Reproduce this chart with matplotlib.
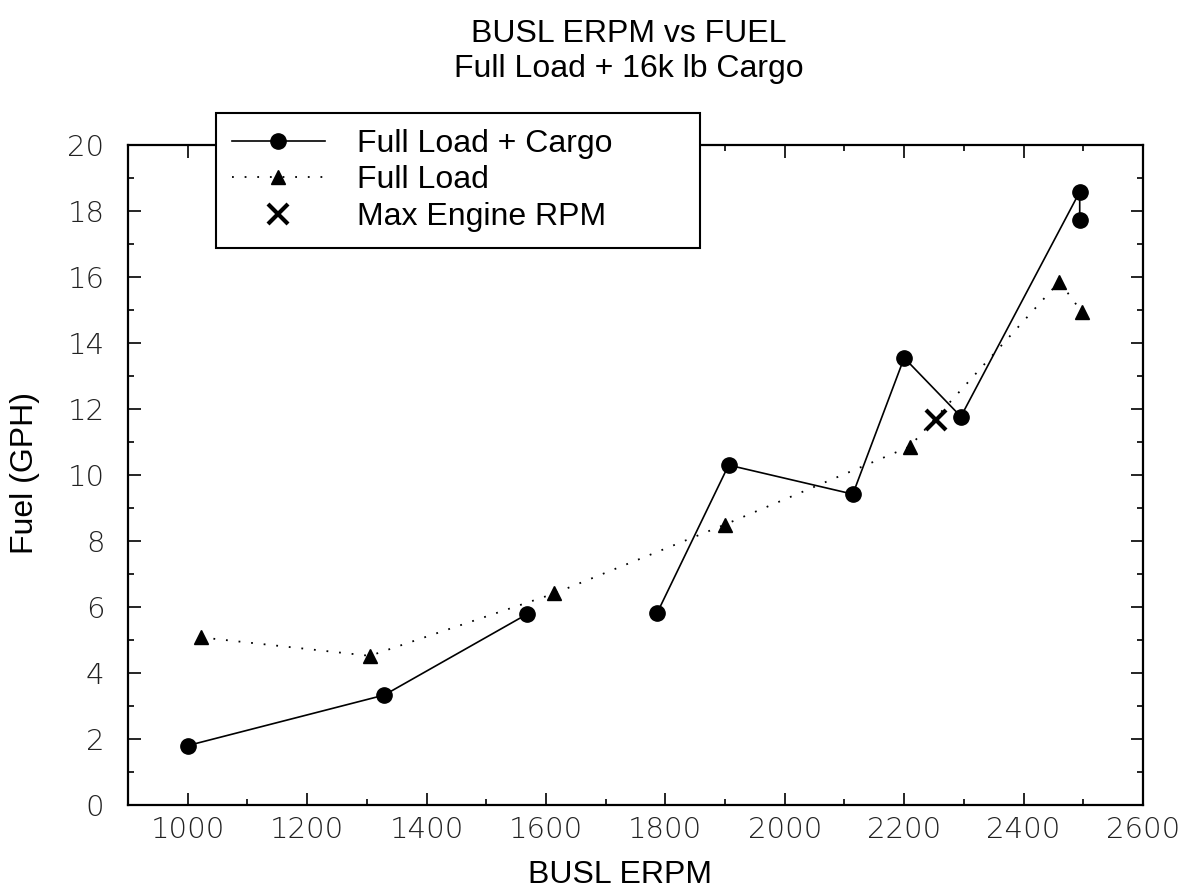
import numpy as np
import matplotlib
matplotlib.use("Agg")
import matplotlib.pyplot as plt
from matplotlib.ticker import MultipleLocator

# data
cargo_rpm = [1000, 1329, 1569, np.nan, 1786, 1906, 2114, 2200, 2295, 2494, 2494]
cargo_gph = [1.80, 3.33, 5.79, np.nan, 5.81, 10.30, 9.42, 13.55, 11.77, 18.58, 17.73]

load_rpm = [1022, 1305, 1614, 1900, 2209, 2460, 2497]
load_gph = [5.08, 4.52, 6.41, 8.50, 10.86, 15.86, 14.95]

max_rpm = [2253]
max_gph = [11.67]

plt.rcParams['font.family'] = ['Liberation Sans', 'DejaVu Sans']

W, H = 1186, 896
fig = plt.figure(figsize=(W / 100, H / 100), dpi=100)
ax = fig.add_axes([128 / W, 1 - 805 / H, (1143 - 128) / W, (805 - 145) / H])

l1, = ax.plot(cargo_rpm, cargo_gph, color='black', lw=1.2, marker='o',
              markersize=11, label='Full Load + Cargo')
l2, = ax.plot(load_rpm, load_gph, color='black', lw=1.3, linestyle=(0, (1, 6)),
              marker='^', markersize=10, label='Full Load')
l3, = ax.plot(max_rpm, max_gph, color='black', linestyle='none', marker='x',
              markersize=14, markeredgewidth=3, label='Max Engine RPM')

ax.set_xlim(900, 2600)
ax.set_ylim(0, 20)
ax.xaxis.set_major_locator(MultipleLocator(200))
ax.xaxis.set_minor_locator(MultipleLocator(100))
ax.yaxis.set_major_locator(MultipleLocator(2))
ax.yaxis.set_minor_locator(MultipleLocator(1))
ax.set_xticks(np.arange(1000, 2601, 200))

ax.tick_params(which='both', direction='in', top=True, right=True, width=1.2, color='black')
ax.tick_params(which='major', length=9)
ax.tick_params(which='minor', length=4)
ax.tick_params(axis='x', which='major', pad=8)
ax.tick_params(axis='y', which='major', pad=17)
for lab in ax.get_xticklabels() + ax.get_yticklabels():
    lab.set_fontfamily('DejaVu Sans')
    lab.set_fontweight('light')
    lab.set_fontsize(21)
    lab.set_color('#222222')

for sp in ax.spines.values():
    sp.set_linewidth(1.6)

fig.text(0.53, 1 - 42 / H, 'BUSL ERPM vs FUEL', ha='center', va='baseline', fontsize=23)
fig.text(0.53, 1 - 77 / H, 'Full Load + 16k lb Cargo', ha='center', va='baseline', fontsize=23)
fig.text(0.523, 1 - 875 / H, 'BUSL ERPM', ha='center', va='center', fontsize=23)
fig.text(25 / W, 1 - 473 / H, 'Fuel (GPH)', ha='center', va='center', rotation=90, fontsize=23)

leg = fig.legend(handles=[l1, l2, l3], loc='upper left',
                 bbox_to_anchor=(216 / W, 1 - 246 / H, (700 - 216) / W, (246 - 113) / H),
                 mode='expand', borderaxespad=0, fontsize=23, frameon=True,
                 fancybox=False, edgecolor='black', framealpha=1,
                 handlelength=2.9, handletextpad=1.0, labelspacing=0.2, borderpad=0.5)
leg.get_frame().set_linewidth(1.5)

fig.savefig('out.png', dpi=100)
